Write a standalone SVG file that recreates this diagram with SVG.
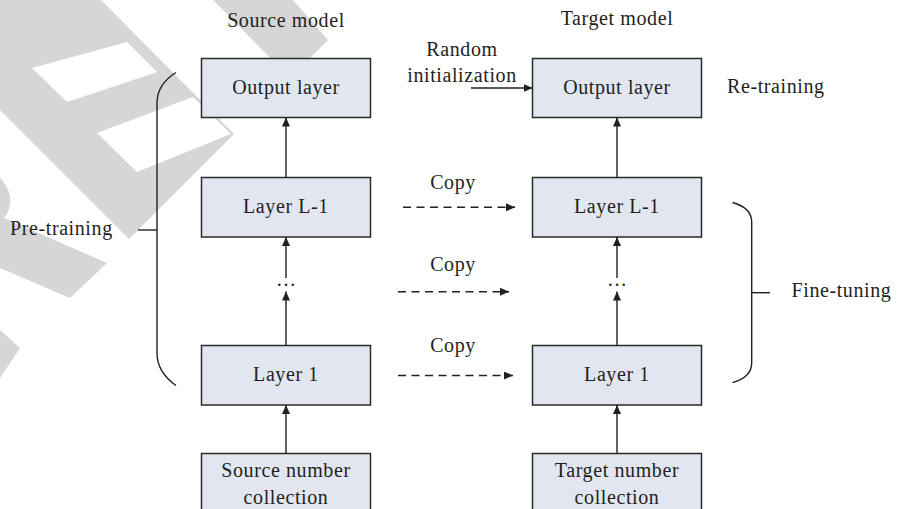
<svg xmlns="http://www.w3.org/2000/svg" width="897" height="509" viewBox="0 0 897 509">
  <defs>
    <style>
      .wm { fill: #d6d6d6; stroke: none; fill-rule: evenodd; }
      .box { fill: #e1e6f1; stroke: #2b2b2b; stroke-width: 1.5; }
      .t { font-family: "Liberation Serif", "Times New Roman", serif; font-size: 20px; letter-spacing: 0.6px; fill: #231f20; }
      .c { text-anchor: middle; }
      .ln { fill: none; stroke: #231f20; stroke-width: 1.4; }
      .dash { stroke-dasharray: 8 5.5; }
    </style>
    <marker id="ah" viewBox="0 0 10 10" refX="10" refY="5" markerWidth="9" markerHeight="8" markerUnits="userSpaceOnUse" orient="auto" preserveAspectRatio="none">
      <path d="M0,0 L10,5 L0,10 Z" fill="#231f20"/>
    </marker>
  </defs>

  <rect width="897" height="509" fill="#ffffff"/>

  <g id="watermark">
    <path class="wm" d="M0,0 L101,0 L234,134 L129,239 L0,110 Z M32,68 L127,42 L157,72 L67,102 Z M97,133 L193,97 L231,134 L137,172 Z"/>
    <path class="wm" d="M213,0 L293,0 L328,40 L290,78 Z"/>
    <path class="wm" d="M0,178 C12,190 14,206 4,218 L107,263 L70,298 L0,268 Z"/>
    <path class="wm" d="M0,330 L20,348 L0,378 Z"/>
  </g>

  <g id="source-model-label"><text class="t c" x="286" y="26.5">Source model</text></g>
  <g id="target-model-label"><text class="t c" x="617" y="25">Target model</text></g>

  <g id="src-output"><rect class="box" x="201.5" y="58.5" width="169" height="59"/><text class="t c" x="286" y="94">Output layer</text></g>
  <g id="src-l1"><rect class="box" x="201.5" y="177.5" width="169" height="59.5"/><text class="t c" x="286" y="213">Layer L-1</text></g>
  <g id="src-dots"><text class="t c" x="286" y="285.5" style="letter-spacing:0">…</text></g>
  <g id="src-layer1"><rect class="box" x="201.5" y="345.5" width="169" height="59.5"/><text class="t c" x="286" y="381">Layer 1</text></g>
  <g id="src-data"><rect class="box" x="201.5" y="453.5" width="169" height="60"/><text class="t c" x="286" y="477">Source number</text><text class="t c" x="286" y="504">collection</text></g>

  <g id="tgt-output"><rect class="box" x="532.5" y="58.5" width="169" height="59"/><text class="t c" x="617" y="94">Output layer</text></g>
  <g id="tgt-l1"><rect class="box" x="532.5" y="177.5" width="169" height="59.5"/><text class="t c" x="617" y="213">Layer L-1</text></g>
  <g id="tgt-dots"><text class="t c" x="617" y="285.5" style="letter-spacing:0">…</text></g>
  <g id="tgt-layer1"><rect class="box" x="532.5" y="345.5" width="169" height="59.5"/><text class="t c" x="617" y="381">Layer 1</text></g>
  <g id="tgt-data"><rect class="box" x="532.5" y="453.5" width="169" height="60"/><text class="t c" x="617" y="477">Target number</text><text class="t c" x="617" y="504">collection</text></g>

  <g id="random-init"><text class="t c" x="462" y="56">Random</text><text class="t c" x="462" y="81.5">initialization</text></g>
  <g id="retraining"><text class="t" x="727" y="93">Re-training</text></g>
  <g id="copy-labels">
    <text class="t c" x="453" y="189">Copy</text>
    <text class="t c" x="453" y="271">Copy</text>
    <text class="t c" x="453" y="352">Copy</text>
  </g>

  <g id="pretraining">
    <path class="ln" d="M176,72.5 C164,80 157,91 157,103 V353 C157,366 164,377 176,385.5"/>
    <path class="ln" d="M138,230 H157"/>
    <text class="t" x="10" y="235">Pre-training</text>
  </g>
  <g id="finetuning">
    <path class="ln" d="M732.5,202.5 C745,206 751.7,212 751.7,222 V363 C751.7,373 745,379 732.5,382.7"/>
    <path class="ln" d="M751.7,292.7 H770"/>
    <text class="t" x="791.5" y="297">Fine-tuning</text>
  </g>

  <g id="connectors">
    <path class="ln" d="M286,177.5 V117.5" marker-end="url(#ah)"/>
    <path class="ln" d="M286,278 V237" marker-end="url(#ah)"/>
    <path class="ln" d="M286,345.5 V291.5" marker-end="url(#ah)"/>
    <path class="ln" d="M286,453.5 V405" marker-end="url(#ah)"/>
    <path class="ln" d="M617,177.5 V117.5" marker-end="url(#ah)"/>
    <path class="ln" d="M617,278 V237" marker-end="url(#ah)"/>
    <path class="ln" d="M617,345.5 V291.5" marker-end="url(#ah)"/>
    <path class="ln" d="M617,453.5 V405" marker-end="url(#ah)"/>
    <path class="ln" d="M471,88 H532.5" marker-end="url(#ah)"/>
    <path class="ln dash" d="M403,207.3 H515" marker-end="url(#ah)"/>
    <path class="ln dash" d="M398,291.7 H509" marker-end="url(#ah)"/>
    <path class="ln dash" d="M398,375.5 H513" marker-end="url(#ah)"/>
  </g>
</svg>
